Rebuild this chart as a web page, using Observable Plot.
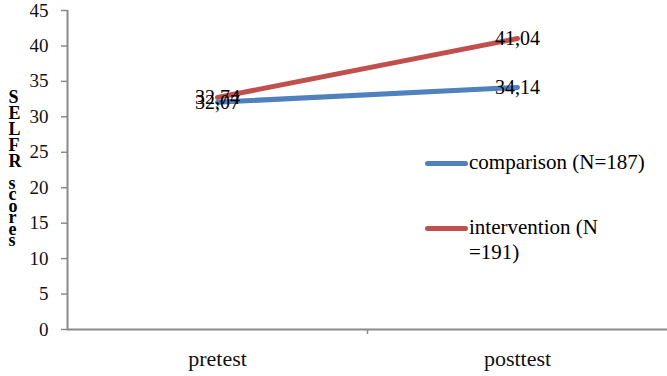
<!DOCTYPE html>
<html>
<head>
<meta charset="utf-8">
<script src="https://cdn.jsdelivr.net/npm/d3@7"></script>
<script src="https://cdn.jsdelivr.net/npm/@observablehq/plot@0.6"></script>
<style>
  body { margin: 0; background: #fff; }
  #wrap { position: relative; width: 667px; height: 376px; font-family: "Liberation Serif", Tinos, "Times New Roman", "Nimbus Roman", "DejaVu Serif", serif; }
  .leg { position: absolute; font-size: 21px; color: #000; line-height: 25px; }
  .sw { position: absolute; width: 43px; height: 5px; border-radius: 2.5px; }
</style>
</head>
<body>
<div id="wrap"></div>
<script>
const categories = ["pretest", "posttest"];
const seriesNames = ["comparison (N=187)", "intervention (N=191)"];
const comparison = [32.07, 34.14];
const intervention = [32.74, 41.04];
const yTicks = [0, 5, 10, 15, 20, 25, 30, 35, 40, 45];
const colors = ["#4F81BD", "#C0504D"];
const yTitleCaps = "SELFR";
const yTitleLower = "scores";

const data = [];
[comparison, intervention].forEach((vals, s) => {
  vals.forEach((v, i) => data.push({series: seriesNames[s], xi: i + 0.5, value: v, label: v.toFixed(2).replace(".", ",")}));
});

const FONT = '"Liberation Serif", Tinos, "Times New Roman", "Nimbus Roman", "DejaVu Serif", serif';
const axisColor = "#8a8a8a";
const chart = Plot.plot({
  width: 667,
  height: 376,
  marginLeft: 67,
  marginRight: 0,
  marginTop: 10,
  marginBottom: 47,
  style: {fontFamily: FONT, background: "#fff"},
  x: {domain: [0, categories.length], axis: null},
  y: {domain: [0, 45], axis: null},
  color: {domain: seriesNames, range: colors},
  marks: [
    Plot.ruleX([0], {y1: 0, y2: 45, stroke: axisColor, strokeWidth: 2}),
    Plot.ruleY([0], {stroke: axisColor, strokeWidth: 2}),
    Plot.axisY(yTicks, {label: null, tickSize: 6, tickPadding: 13, stroke: axisColor, strokeWidth: 1.5, fill: "#111", fontSize: 19, tickFormat: d => d}),
    Plot.axisX([1], {label: null, tickSize: 5, stroke: axisColor, strokeWidth: 1.5, tickFormat: () => ""}),
    Plot.axisX(categories.map((c, i) => i + 0.5), {label: null, tickSize: 0, tickPadding: 21, fill: "#111", fontSize: 22, tickFormat: d => categories[d - 0.5]}),
    Plot.lineY(data, {x: "xi", y: "value", z: "series", stroke: "series", strokeWidth: 5}),
    Plot.text(data, {x: "xi", y: "value", text: "label", fontSize: 20, fill: "#000"}),
    Plot.text([yTitleCaps.split("").join("\n")], {frameAnchor: "left", dx: -59, dy: -40, text: d => d, fontSize: 18, fontWeight: "bold", lineHeight: 0.89, fill: "#000"}),
    Plot.text([yTitleLower.split("").join("\n")], {frameAnchor: "left", dx: -59, dy: 44, text: d => d, fontSize: 18, fontWeight: "bold", lineHeight: 0.64, fill: "#000"})
  ]
});
const wrap = document.getElementById("wrap");
wrap.appendChild(chart);

// Legend (HTML overlay)
const legendPos = [{top: 163, lines: ["comparison (N=187)"]}, {top: 228, lines: ["intervention (N", "=191)"]}];
legendPos.forEach((p, i) => {
  const sw = document.createElement("div");
  sw.className = "sw";
  sw.style.left = "425px";
  sw.style.top = (p.top - 2.5) + "px";
  sw.style.background = colors[i];
  wrap.appendChild(sw);
  const t = document.createElement("div");
  t.className = "leg";
  t.style.left = "469px";
  t.style.top = (p.top - 13) + "px";
  t.innerHTML = p.lines.join("<br>");
  wrap.appendChild(t);
});
</script>
</body>
</html>
